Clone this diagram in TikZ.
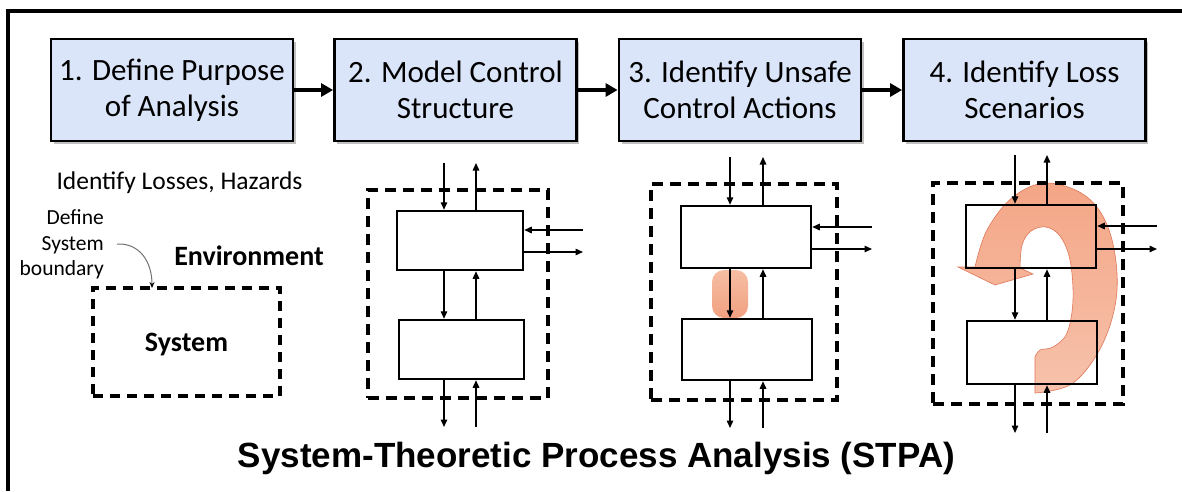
\documentclass[tikz,border=0pt]{standalone}
\usepackage{fontspec}
\setmainfont{Carlito}
\newfontfamily\titlefont{Liberation Sans}
\usetikzlibrary{arrows.meta,shadows}
\definecolor{stepfill}{RGB}{219,229,249}
\definecolor{hltop}{RGB}{246,190,163}
\definecolor{hlbot}{RGB}{241,160,128}
\definecolor{bigtop}{RGB}{244,166,134}
\definecolor{bigbot}{RGB}{247,194,172}
\definecolor{bigline}{RGB}{222,118,88}
\newcommand\ctlarrows[8]{%
  \coordinate (#1ti) at (#2,#4);
  \coordinate (#1to) at (#3,#4);
  \coordinate (#1bo) at (#2,#5);
  \coordinate (#1bi) at (#3,#5);
  \coordinate (#1ri) at (#6,#7);
  \coordinate (#1ro) at (#6,#8);
  \draw[ctl] (#1ti) -- (#1ti |- t#1.north);
  \draw[ctl] (#1to |- t#1.north) -- (#1to);
  \draw[ctl] (#1ti |- t#1.south) -- (#1ti |- b#1.north);
  \draw[ctl] (#1to |- b#1.north) -- (#1to |- t#1.south);
  \draw[ctl] (#1bo |- b#1.south) -- (#1bo);
  \draw[ctl] (#1bi) -- (#1bi |- b#1.south);
  \draw[ctl] (#1ri) -- (#1ri -| t#1.east);
  \draw[ctl] (#1ro -| t#1.east) -- (#1ro);
}
\begin{document}
\begin{tikzpicture}[x=1pt,y=-1pt,
  stepbox/.style={draw, line width=2.8pt, fill=stepfill, minimum width=242pt, minimum height=102pt,
    inner sep=0pt, align=center, font=\fontsize{31}{36}\selectfont,
    drop shadow={shadow xshift=2.5pt, shadow yshift=-2.5pt, opacity=0.35, fill=black!70}},
  flow/.style={line width=3.4pt, -{Triangle[length=12pt,width=13pt]}},
  ctl/.style={line width=1.4pt, -{Triangle[length=7.5pt,width=6.5pt]}},
  pbox/.style={draw, line width=2.5pt, inner sep=0pt},
  dbox/.style={draw, line width=3.4pt, dash pattern=on 11pt off 7pt, inner sep=0pt},
  lbl/.style={inner sep=0pt, anchor=base}
]
\useasboundingbox (0,0) rectangle (1182,491);
\fill[white] (0,0) rectangle (1182,491);
% frame
\draw[line width=3.2pt] (8,491) -- (8,11) -- (1182,11);

% steps
\node[stepbox] (s1) at (172,90) {1. Define Purpose\\of Analysis};
\node[stepbox] (s2) at (455.5,90) {2. Model Control\\Structure};
\node[stepbox] (s3) at (740,90) {3. Identify Unsafe\\Control Actions};
\node[stepbox] (s4) at (1024.5,90) {4. Identify Loss\\Scenarios};
\draw[flow] (s1) -- (s2);
\draw[flow] (s2) -- (s3);
\draw[flow] (s3) -- (s4);

% panel 1
\node[lbl, font=\fontsize{25.5}{30}\selectfont] (losses) at (179.5,189) {Identify Losses, Hazards};
\node[lbl, anchor=base east, font=\fontsize{21.5}{26}\selectfont] (def1) at (104,224) {Define};
\node[lbl, anchor=base east, font=\fontsize{21.5}{26}\selectfont] (def2) at (104,250) {System};
\node[lbl, anchor=base east, font=\fontsize{21.5}{26}\selectfont] (def3) at (104,275) {boundary};
\node[lbl, font=\bfseries\fontsize{28}{32}\selectfont] (env) at (249,265) {Environment};
\node[dbox, dash pattern=on 10pt off 7pt, minimum width=187pt, minimum height=108pt] (sysbox) at (186.5,342) {};
\node[lbl, font=\bfseries\fontsize{28}{32}\selectfont] (sys) at (186.5,351) {System};
\coordinate (bnd0) at (117,244);
\coordinate (bnd1) at (152,288);
\draw[black!55, line width=1pt, -{Stealth[length=6pt,width=5pt,black]}] (bnd0) .. controls (140,243) and (152,262) .. (bnd1);

% panel 2
\node[dbox, minimum width=180pt, minimum height=208pt] (d2) at (458,294) {};
\node[pbox, minimum width=126pt, minimum height=59pt] (t2) at (460,240.5) {};
\node[pbox, minimum width=125pt, minimum height=59pt] (b2) at (461.5,349.5) {};
\ctlarrows{2}{444}{476}{163}{427}{583}{230}{252}

% panel 3
\node[dbox, minimum width=186pt, minimum height=216pt] (d3) at (744,292) {};
\node[rounded corners=12pt, minimum width=36pt, minimum height=48pt, inner sep=0pt,
  top color=hltop, bottom color=hlbot] (h3) at (730,294) {};
\node[pbox, minimum width=130pt, minimum height=62pt] (t3) at (746,237) {};
\node[pbox, minimum width=130pt, minimum height=61pt] (b3) at (747,349.5) {};
\ctlarrows{3}{730}{763}{157}{428}{872}{227}{249}

% panel 4
\draw[draw=bigline, line width=0.6pt, top color=bigtop, bottom color=bigbot]
  plot[smooth, tension=0.6] coordinates {(1035,393) (1073,383) (1103,343) (1117,290) (1110,233) (1087,197) (1047,183) (1013,197) (987,230) (975,267)}
  -- (958,267) -- (995,285) -- (1033,274) -- (1020,268)
  -- plot[smooth, tension=0.6] coordinates {(1020,268) (1022,245) (1031,231) (1046,227) (1060,236) (1070,260) (1073,300) (1067,333) (1053,347) (1040,350) (1035,357)}
  -- cycle;
\node[dbox, minimum width=190pt, minimum height=221pt] (d4) at (1028,293.5) {};
\node[pbox, minimum width=130pt, minimum height=63pt] (t4) at (1031,236.5) {};
\node[pbox, minimum width=130pt, minimum height=63pt] (b4) at (1032,352.5) {};
\ctlarrows{4}{1015}{1047}{155}{433}{1157}{226}{249}

% title
\node[lbl, font=\titlefont\bfseries\fontsize{35}{42}\selectfont] (title) at (596.5,467) {System-Theoretic Process Analysis (STPA)};
\end{tikzpicture}
\end{document}
